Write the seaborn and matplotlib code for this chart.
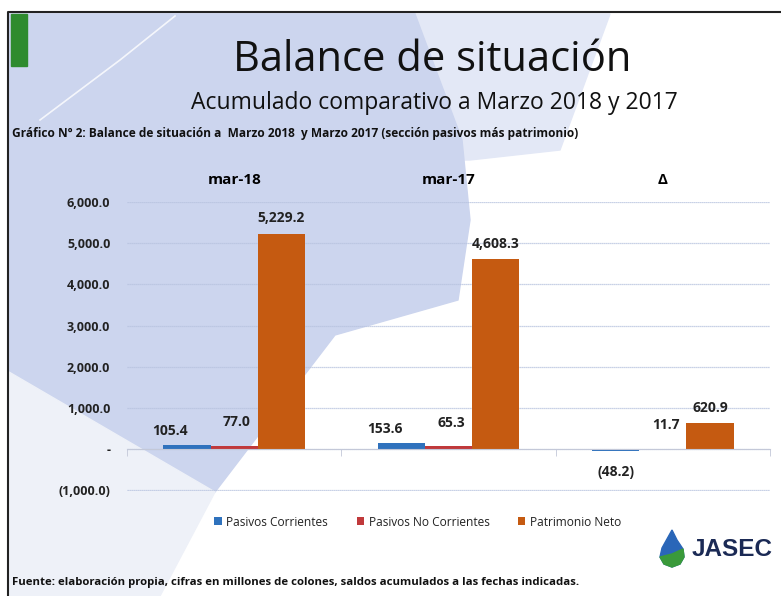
import pandas as pd
import matplotlib
matplotlib.use("Agg")
import matplotlib.pyplot as plt
import seaborn as sns
from matplotlib.patches import Polygon, Rectangle
from matplotlib.ticker import FixedLocator

# ============================================================
# DATA
# ============================================================

PERIODS = ["mar-18", "mar-17", "\u0394"]
SERIES = ["Pasivos Corrientes", "Pasivos No Corrientes", "Patrimonio Neto"]
PASIVOS_CORRIENTES = [105.4, 153.6, -48.2]
PASIVOS_NO_CORRIENTES = [77.0, 65.3, 11.7]
PATRIMONIO_NETO = [5229.2, 4608.3, 620.9]
Y_TICKS = [-1000, 0, 1000, 2000, 3000, 4000, 5000, 6000]

COLORS = {"Pasivos Corrientes": "#2f72bd",
          "Pasivos No Corrientes": "#c0393b",
          "Patrimonio Neto": "#c55a11"}

TITLE = "Balance de situación"
SUBTITLE = "Acumulado comparativo a Marzo 2018 y 2017"
CAPTION = "Gráfico Nº 2: Balance de situación a  Marzo 2018  y Marzo 2017 (sección pasivos más patrimonio)"
SOURCE = "Fuente: elaboración propia, cifras en millones de colones, saldos acumulados a las fechas indicadas."

FONT = ["Open Sans", "DejaVu Sans"]


def fmt(v):
    if v == 0:
        return "-"
    s = f"{abs(v):,.1f}"
    return f"({s})" if v < 0 else s


# ============================================================
# FIGURE + SLIDE BACKGROUND
# ============================================================

W, H = 781, 596
fig = plt.figure(figsize=(W / 100, H / 100), dpi=100, facecolor="white")


def px(points):
    return [(x / W, 1 - y / H) for x, y in points]


fig.patches.append(Polygon(px([(9, 14), (610, 14), (560, 150), (470, 160), (9, 160)]),
                           closed=True, transform=fig.transFigure, color="#e3e8f6", zorder=-2))
fig.patches.append(Polygon(px([(9, 14), (415, 14), (462, 140), (470, 220), (458, 300),
                               (335, 335), (215, 492), (9, 372)]),
                           closed=True, transform=fig.transFigure, color="#ccd5ee", zorder=-1))
fig.patches.append(Polygon(px([(9, 372), (215, 492), (160, 596), (9, 596)]),
                           closed=True, transform=fig.transFigure, color="#eef1f8", zorder=-1))
fig.lines.append(plt.Line2D([175 / W, 120 / W, 40 / W], [1 - 16 / H, 1 - 60 / H, 1 - 120 / H],
                            transform=fig.transFigure, color="white", lw=1.2, alpha=0.8,
                            zorder=-0.5))
# slide frame + green accent
fig.lines.append(plt.Line2D([8 / W, 8 / W, 1], [0, 1 - 12 / H, 1 - 12 / H],
                            transform=fig.transFigure, color="#222222", lw=1.5))
fig.patches.append(Rectangle((11 / W, 1 - 66 / H), 16 / W, 52 / H,
                             transform=fig.transFigure, color="#2e8b2e", zorder=1))

fig.text(432 / W, 1 - 60 / H, TITLE, ha="center", va="center", fontsize=30,
         family=FONT, color="#111111")
fig.text(434 / W, 1 - 103 / H, SUBTITLE, ha="center", va="center", fontsize=16.5,
         family=FONT, color="#111111")
fig.text(12 / W, 1 - 133 / H, CAPTION, ha="left", va="center", fontsize=8.6,
         family=FONT, weight="bold", color="#111111")
fig.text(12 / W, 1 - 583 / H, SOURCE, ha="left", va="center", fontsize=8.2,
         family=FONT, weight="bold", color="#111111")

# JASEC logo
fig.patches.append(Polygon(px([(672, 530), (677, 540), (683, 549), (684, 557), (680, 564),
                               (672, 567), (664, 564), (660, 557), (662, 548)]),
                           closed=True, transform=fig.transFigure, color="#2a66b8", zorder=2))
fig.patches.append(Polygon(px([(683, 549), (684, 557), (680, 564), (672, 567), (664, 564),
                               (660, 557), (672, 554)]),
                           closed=True, transform=fig.transFigure, color="#3a9a3a", zorder=3))
fig.text(692 / W, 1 - 549 / H, "JASEC", ha="left", va="center", fontsize=17.5,
         family=["Liberation Sans", "DejaVu Sans"], weight="bold", color="#1b2a55")

# ============================================================
# CHART
# ============================================================

df = pd.DataFrame({
    "Periodo": PERIODS * 3,
    "Serie": [s for s in SERIES for _ in PERIODS],
    "Valor": PASIVOS_CORRIENTES + PASIVOS_NO_CORRIENTES + PATRIMONIO_NETO,
})

ax = fig.add_axes([127 / W, 1 - 491 / H, 643 / W, 289 / H])
ax.set_zorder(5)
ax.set_facecolor("none")
sns.barplot(data=df, x="Periodo", y="Valor", hue="Serie", hue_order=SERIES,
            order=PERIODS, palette=COLORS, width=0.66, gap=0, saturation=1,
            ax=ax, zorder=3)

ax.set_ylim(-1020, 6000)
ax.set_xlim(-0.5, 2.5)
ax.yaxis.set_major_locator(FixedLocator(Y_TICKS))
ax.set_yticklabels([fmt(t) for t in Y_TICKS])
ax.grid(axis="y", color="#b7c3df", lw=0.9, ls=(0, (1, 0.6)), zorder=0)
ax.grid(axis="x", visible=False)
for side in ["left", "right", "top"]:
    ax.spines[side].set_visible(False)
ax.spines["bottom"].set_position(("data", 0))
ax.spines["bottom"].set_color("#c3c8d8")
ax.spines["bottom"].set_zorder(4)

ax.set_xlabel("")
ax.set_ylabel("")
ax.xaxis.set_minor_locator(FixedLocator([-0.5, 0.5, 1.5, 2.5]))
ax.tick_params(axis="x", which="major", bottom=False, labelbottom=False,
               top=False, labeltop=True, pad=7, labelsize=11)
ax.tick_params(axis="x", which="minor", bottom=True, length=5, color="#c3c8d8",
               direction="out")
ax.tick_params(axis="y", length=0, pad=12, labelsize=9, labelcolor="#222222")
for lbl in ax.get_xticklabels():
    lbl.set_fontweight("bold")
    lbl.set_family(FONT)
for lbl in ax.get_yticklabels():
    lbl.set_fontweight("bold")
    lbl.set_family(FONT)

# data labels
offsets = {"Pasivos Corrientes": (-12, 5), "Pasivos No Corrientes": (2, 12),
           "Patrimonio Neto": (0, 6)}
for cont, serie in zip(ax.containers, SERIES):
    dx, dy = offsets[serie]
    for bar in cont:
        v = bar.get_height()
        x = bar.get_x() + bar.get_width() / 2
        if v < 0:
            ax.annotate(fmt(v), (x, v), xytext=(0, -10), textcoords="offset points",
                        ha="center", va="top", fontsize=10, weight="bold",
                        family=FONT, color="#222222")
        else:
            ax.annotate(fmt(v), (x, v), xytext=(dx, dy), textcoords="offset points",
                        ha="center", va="bottom", fontsize=10, weight="bold",
                        family=FONT, color="#222222")

sns.move_legend(ax, "center", bbox_to_anchor=(418 / W, 1 - 522 / H),
                bbox_transform=fig.transFigure, ncol=3, frameon=False, title=None,
                fontsize=8.6, handlelength=0.6, handleheight=0.6, handletextpad=0.4,
                columnspacing=2.4)
for t in ax.get_legend().get_texts():
    t.set_family(FONT)
    t.set_color("#222222")

fig.savefig("out.png", dpi=100, facecolor=fig.get_facecolor())
